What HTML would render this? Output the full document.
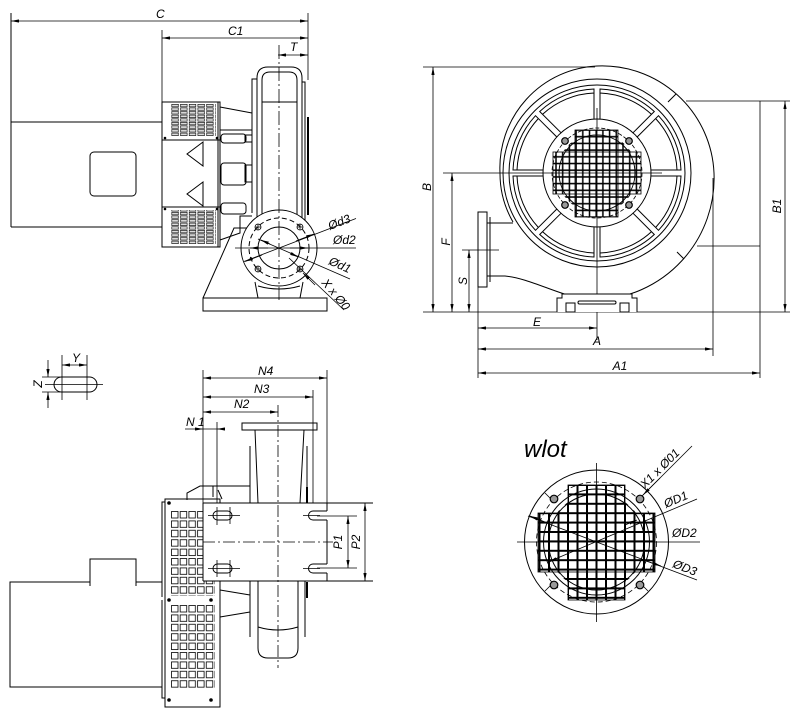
<!DOCTYPE html>
<html><head><meta charset="utf-8">
<style>
html,body{margin:0;padding:0;background:#fff;}
svg{display:block;}
text{font-family:"Liberation Sans","DejaVu Sans",sans-serif;font-style:italic;font-size:12px;fill:#000;stroke:none;}
</style></head><body>
<svg width="800" height="718" viewBox="0 0 800 718" xmlns="http://www.w3.org/2000/svg">
<defs>
<marker id="a" viewBox="0 0 10 4" refX="10" refY="2" markerWidth="8" markerHeight="3.2" orient="auto-start-reverse" markerUnits="userSpaceOnUse"><path d="M0,0L10,2L0,4z" fill="#000" stroke="none"/></marker>
<pattern id="c1" x="171.5" y="104" width="8.7" height="3.6" patternUnits="userSpaceOnUse"><rect x="0.3" y="0.3" width="6.6" height="2.5" fill="#ddd" stroke="#000" stroke-width="0.6"/></pattern>
<pattern id="c2" x="171" y="511" width="8.7" height="9.4" patternUnits="userSpaceOnUse"><rect x="0.5" y="0.5" width="6.5" height="6.5" fill="#fff" stroke="#000" stroke-width="0.8"/></pattern>
<pattern id="g1" x="555" y="129" width="6.7" height="6.7" patternUnits="userSpaceOnUse"><path d="M1,0V6.7M0,1H6.7" stroke="#000" stroke-width="1.5"/></pattern>
<pattern id="g2" x="567" y="484" width="9.5" height="9.4" patternUnits="userSpaceOnUse"><path d="M1,0V9.4M0,1H9.5" stroke="#000" stroke-width="2"/></pattern>
<clipPath id="cw"><rect x="575" y="130" width="43" height="87"/><rect x="553" y="152" width="88" height="42"/><circle cx="597" cy="173" r="40"/></clipPath>
<clipPath id="cl"><rect x="568" y="485" width="57" height="115"/><rect x="538" y="513" width="117" height="59"/><circle cx="596.5" cy="542" r="49"/></clipPath>
</defs>

<g fill="none" stroke="#000" stroke-width="1">

<!-- ============ TOP-LEFT VIEW ============ -->
<g stroke-width="0.8">
<line x1="11" y1="21" x2="308" y2="21" marker-start="url(#a)" marker-end="url(#a)"/>
<line x1="162" y1="38" x2="308" y2="38" marker-start="url(#a)" marker-end="url(#a)"/>
<line x1="278" y1="55" x2="308" y2="55" marker-start="url(#a)" marker-end="url(#a)"/>
<path d="M308,13V80 M162,30V102"/>
</g>
<text x="156" y="18">C</text>
<text x="228" y="35">C1</text>
<text x="290" y="51">T</text>

<!-- motor -->
<path d="M11,13V227 M11,122H162 M11,227H162"/>
<rect x="90" y="152" width="46" height="44" rx="4"/>

<!-- fan cover block -->
<rect x="162" y="102" width="58" height="145"/>
<path d="M162,140H220 M162,207H220 M218,102V247"/>
<rect x="171.5" y="104" width="44" height="32" fill="url(#c1)" stroke="none"/>
<rect x="171.5" y="210" width="44" height="34" fill="url(#c1)" stroke="none"/>
<g fill="#000" stroke="none"><circle cx="165" cy="138" r="1.3"/><circle cx="217" cy="138" r="1.3"/><circle cx="165" cy="209" r="1.3"/><circle cx="217" cy="209" r="1.3"/></g>
<polygon points="203,142 187,154 203,166"/>
<polygon points="203,182 187,194 203,206"/>

<!-- connectors -->
<path d="M220,107 L252,113 M220,130 H252"/>
<rect x="221" y="134" width="25" height="9" rx="3"/>
<rect x="245" y="135" width="7" height="7"/>
<rect x="221" y="163" width="25" height="22" rx="3"/>
<rect x="245" y="165" width="7" height="17"/>
<rect x="221" y="203" width="25" height="11" rx="3"/>
<path d="M220,240 L240,233 V216 H252"/>

<!-- volute side view -->
<path d="M257,222 V78 Q257,67 268,67 H291 Q302,67 302,78 V222"/>
<path d="M262,222 V80 Q262,72 270,72 H289 Q297,72 297,80 V222"/>
<path d="M262,102 H297"/>
<path d="M257,79 H252 V213"/>
<path d="M302,82 H305 V222"/>
<line x1="308" y1="117" x2="308" y2="215" stroke-width="2"/>

<!-- base -->
<rect x="203" y="298" width="124" height="13"/>
<path d="M203,298 L234,228 H247"/>
<path d="M255,282 L258,298 M303,282 L300,298"/>
<path d="M258,286 Q279,292 300,286"/>

<!-- flange -->
<circle cx="279" cy="248" r="38" fill="#fff"/>
<circle cx="279" cy="248" r="30" stroke-dasharray="5,3"/>
<circle cx="279" cy="248" r="21"/>
<g stroke-width="0.8">
<circle cx="258" cy="227" r="3"/><circle cx="300" cy="227" r="3"/>
<circle cx="258" cy="269" r="3"/><circle cx="300" cy="269" r="3"/>
<path d="M255,227h6M258,224v6M297,227h6M300,224v6M255,269h6M258,266v6M297,269h6M300,266v6"/>
</g>
<line x1="279" y1="45" x2="279" y2="300" stroke-width="0.8" stroke-dasharray="14,3,2,3"/>
<g stroke-width="0.8">
<line x1="235" y1="248" x2="356" y2="248"/>
<line x1="244" y1="261.5" x2="356" y2="218.5"/>
<line x1="258" y1="239" x2="350" y2="279"/>
<line x1="289" y1="258" x2="344" y2="310"/>
<line x1="262" y1="255" x2="245" y2="261.5" marker-end="url(#a)"/>
<line x1="296" y1="241" x2="314" y2="234" marker-end="url(#a)"/>
<line x1="268" y1="248" x2="250" y2="248" marker-end="url(#a)"/>
<line x1="290" y1="248" x2="308" y2="248" marker-end="url(#a)"/>
<line x1="270" y1="244" x2="261" y2="240" marker-end="url(#a)"/>
<line x1="290" y1="253" x2="298" y2="257" marker-end="url(#a)"/>
<line x1="315" y1="285" x2="303" y2="273" marker-end="url(#a)"/>
</g>
<text transform="translate(330,230) rotate(-21)">Ød3</text>
<text x="333" y="244">Ød2</text>
<text transform="translate(328,264) rotate(24)">Ød1</text>
<text transform="translate(321,283) rotate(50)">X x Ø0</text>

<!-- ============ TOP-RIGHT VIEW ============ -->
<g stroke-width="0.8">
<line x1="433" y1="67" x2="433" y2="312" marker-start="url(#a)" marker-end="url(#a)"/>
<line x1="452" y1="173" x2="452" y2="312" marker-start="url(#a)" marker-end="url(#a)"/>
<line x1="469" y1="250" x2="469" y2="312" marker-start="url(#a)" marker-end="url(#a)"/>
<line x1="785" y1="101" x2="785" y2="312" marker-start="url(#a)" marker-end="url(#a)"/>
<line x1="478" y1="328" x2="597" y2="328" marker-start="url(#a)" marker-end="url(#a)"/>
<line x1="478" y1="349" x2="713" y2="349" marker-start="url(#a)" marker-end="url(#a)"/>
<line x1="478" y1="373" x2="760" y2="373" marker-start="url(#a)" marker-end="url(#a)"/>
<path d="M423,67H595 M443,173H662 M462,250H499 M686,101H790 M697,246H760 M423,312H790 M760,101V378 M713,178V356 M478,287V378 M597,108V340"/>
</g>
<text transform="translate(431,187) rotate(-90)" text-anchor="middle">B</text>
<text transform="translate(450,242) rotate(-90)" text-anchor="middle">F</text>
<text transform="translate(467,281) rotate(-90)" text-anchor="middle">S</text>
<text transform="translate(781,206) rotate(-90)" text-anchor="middle">B1</text>
<text x="537" y="326" text-anchor="middle">E</text>
<text x="597" y="345" text-anchor="middle">A</text>
<text x="620" y="370" text-anchor="middle">A1</text>

<!-- volute -->
<path d="M513,222 A97,97 0 0 1 500,173 A102,102 0 0 1 597,66 A112,112 0 0 1 714,173 A122,122 0 0 1 597,300 C565,300 535,279 505,276 L487,276"/>
<path d="M487,223H513"/>
<rect x="478" y="212" width="9" height="75"/>
<path d="M490,217V282"/>
<path d="M668,102L676,94 M677,252L684,259"/>
<circle cx="597" cy="173" r="94"/>
<circle cx="597" cy="173" r="88"/>
<circle cx="597" cy="173" r="54"/>
<!-- windows -->
<path d="M651,176 L681,176 A84,84 0 0 1 658.5,230.3 L637.3,209.1 M677,176 A80,80 0 0 1 655.7,227.4"/>
<path d="M633.1,213.3 L654.3,234.5 A84,84 0 0 1 600,257 L600,227 M651.4,231.7 A80,80 0 0 1 600,253"/>
<path d="M594,227 L594,257 A84,84 0 0 1 539.7,234.5 L561,213.3 M594,253 A80,80 0 0 1 542.6,231.7"/>
<path d="M556.7,209.1 L535.5,230.3 A84,84 0 0 1 513,176 L543,176 M538.3,227.4 A80,80 0 0 1 517,176"/>
<path d="M543,170 L513,170 A84,84 0 0 1 535.5,115.7 L556.7,136.9 M517,170 A80,80 0 0 1 538.3,118.6"/>
<path d="M561,132.7 L539.7,111.5 A84,84 0 0 1 594,89 L594,119 M542.6,114.3 A80,80 0 0 1 594,93"/>
<path d="M600,119 L600,89 A84,84 0 0 1 654.3,111.5 L633.1,132.7 M600,93 A80,80 0 0 1 651.4,114.3"/>
<path d="M637.3,136.9 L658.5,115.7 A84,84 0 0 1 681,170 L651,170 M655.7,118.6 A80,80 0 0 1 677,170"/>
<!-- inlet grille -->
<rect x="550" y="126" width="95" height="95" fill="url(#g1)" clip-path="url(#cw)" stroke="none"/>
<rect x="575" y="130" width="43" height="87" stroke-width="0.8"/>
<rect x="553" y="152" width="88" height="42" stroke-width="0.8"/>
<circle cx="597" cy="173" r="38"/>
<circle cx="597" cy="173" r="45" stroke-dasharray="4,2" stroke-width="0.8"/>
<g fill="#999" stroke-width="1.2"><circle cx="565" cy="141" r="3.3"/><circle cx="629" cy="141" r="3.3"/><circle cx="565" cy="205" r="3.3"/><circle cx="629" cy="205" r="3.3"/></g>
<!-- feet -->
<path d="M557,312 V298 H562 V294 H632 V298 H637 V312" fill="#fff"/>
<rect x="566" y="303" width="9" height="9"/>
<rect x="620" y="303" width="9" height="9"/>
<rect x="578" y="301" width="38" height="3" rx="1.5"/>

<!-- ============ BOTTOM-LEFT VIEW ============ -->
<!-- slot detail -->
<rect x="54" y="377" width="43" height="15" rx="7.5"/>
<g stroke-width="0.8">
<path d="M45,384.5H103 M62,355V400 M87,355V400 M42,377H60 M42,392H60"/>
<line x1="62" y1="365" x2="87" y2="365" marker-start="url(#a)" marker-end="url(#a)"/>
<line x1="48" y1="360" x2="48" y2="377" marker-end="url(#a)"/>
<line x1="48" y1="408" x2="48" y2="392" marker-end="url(#a)"/>
</g>
<text x="72" y="362">Y</text>
<text transform="translate(42,384) rotate(-90)" text-anchor="middle">Z</text>

<!-- N dims -->
<g stroke-width="0.8">
<line x1="203" y1="378" x2="327" y2="378" marker-start="url(#a)" marker-end="url(#a)"/>
<line x1="203" y1="397" x2="313" y2="397" marker-start="url(#a)" marker-end="url(#a)"/>
<line x1="203" y1="412" x2="278" y2="412" marker-start="url(#a)" marker-end="url(#a)"/>
<line x1="185" y1="429" x2="203" y2="429" marker-end="url(#a)"/>
<line x1="225" y1="429" x2="217" y2="429" marker-end="url(#a)"/>
<path d="M203,429H217 M203,370V503 M327,370V503 M313,390V511 M217,422V525"/>
</g>
<text x="258" y="375">N4</text>
<text x="254" y="393">N3</text>
<text x="234" y="408">N2</text>
<text x="186" y="426">N 1</text>

<!-- outlet top view -->
<rect x="242" y="423" width="75" height="7"/>
<path d="M255,430 L258,503 M304,430 L300,503"/>
<path d="M250,446V503 M307,446V492"/>
<line x1="307" y1="487" x2="307" y2="503" stroke-width="2"/>
<path d="M187,500 V493 L200,486 H250 M213,486V497 M218,490L222,499"/>

<!-- motor -->
<path d="M162,582 H136 V559 H90 V582 H10 V687 H162"/>
<path d="M90,582V586 M136,582V586"/>

<!-- grille panel -->
<rect x="165" y="499" width="55" height="208"/>
<path d="M165,502 H162 V597 M162,600 V698 H165"/>
<rect x="171" y="511" width="44" height="85" fill="url(#c2)" stroke="none"/>
<rect x="171" y="604" width="44" height="85" fill="url(#c2)" stroke="none"/>
<g fill="#000" stroke="none"><circle cx="169" cy="503" r="1.8"/><circle cx="169" cy="600" r="1.8"/><circle cx="211" cy="600" r="1.8"/><circle cx="169" cy="700" r="1.8"/><circle cx="211" cy="700" r="1.8"/></g>

<!-- below base -->
<path d="M220,590 L250,595 M220,617 L250,612 M250,581V637 M305,581V637"/>
<line x1="307" y1="582" x2="307" y2="598" stroke-width="2"/>
<path d="M258,581 V648 Q258,658 268,658 H288 Q298,658 298,648 V581"/>
<path d="M258,627 Q278,633 298,627"/>

<!-- base plate -->
<rect x="203" y="503" width="124" height="78" fill="#fff" stroke="none"/>
<path d="M203,503 H373 M203,581 H373 M203,503 V581 M327,503 V511 M327,520 V564 M327,573 V581"/>
<path d="M327,511 H313 A4.5,4.5 0 0 0 313,520 H327 M327,564 H313 A4.5,4.5 0 0 0 313,573 H327"/>
<rect x="213" y="511" width="19" height="9" rx="4.5"/>
<rect x="213" y="564" width="19" height="9" rx="4.5"/>
<g stroke-width="0.8">
<path d="M208,515.5H240 M208,568.5H240 M217,507V525 M230,507V524 M217,560V577 M230,560V577 M303,515.5H320 M303,568.5H320"/>
<path d="M317,516H357 M317,568H357 M327,503H373 M327,581H373"/>
<line x1="348" y1="516" x2="348" y2="568" marker-start="url(#a)" marker-end="url(#a)"/>
<line x1="365" y1="503" x2="365" y2="581" marker-start="url(#a)" marker-end="url(#a)"/>
<line x1="203" y1="542" x2="333" y2="542" stroke-dasharray="12,3,2,3"/>
<line x1="278" y1="405" x2="278" y2="668" stroke-dasharray="12,3,2,3"/>
</g>
<text transform="translate(342,542) rotate(-90)" text-anchor="middle">P1</text>
<text transform="translate(360,542) rotate(-90)" text-anchor="middle">P2</text>

<!-- ============ WLOT ============ -->
<text x="524" y="457" style="font-size:24px">wlot</text>
<circle cx="596.5" cy="542" r="72"/>
<circle cx="596.5" cy="542" r="60" stroke-dasharray="5,3" stroke-width="0.8"/>
<circle cx="596.5" cy="542" r="53"/>
<circle cx="596.5" cy="542" r="48"/>
<rect x="530" y="475" width="135" height="135" fill="url(#g2)" clip-path="url(#cl)" stroke="none"/>
<rect x="568" y="485" width="57" height="115" stroke-width="0.8"/>
<rect x="538" y="513" width="117" height="59" stroke-width="0.8"/>
<g stroke-width="0.8">
<path d="M517,542H700 M596.5,463V622"/>
<line x1="528" y1="516" x2="697" y2="580"/>
<line x1="548" y1="562" x2="697" y2="499"/>
<line x1="640" y1="498" x2="692" y2="446"/>
<path d="M545,493L553,501 M545,591L553,583 M648,591L640,583"/>
<line x1="545" y1="522" x2="530" y2="516" marker-end="url(#a)"/>
<line x1="646" y1="561" x2="661" y2="566" marker-end="url(#a)"/>
<line x1="560" y1="557" x2="549" y2="562" marker-end="url(#a)"/>
<line x1="625" y1="525" x2="637" y2="520" marker-end="url(#a)"/>
<line x1="660" y1="478" x2="643" y2="495" marker-end="url(#a)"/>
</g>
<g fill="#999" stroke-width="1.2"><circle cx="554" cy="499" r="3.8"/><circle cx="640" cy="499" r="3.8"/><circle cx="554" cy="585" r="3.8"/><circle cx="640" cy="585" r="3.8"/></g>
<text transform="translate(645,489) rotate(-45)">X1 x Ø01</text>
<text transform="translate(666,508) rotate(-23)">ØD1</text>
<text x="672" y="537">ØD2</text>
<text transform="translate(672,567) rotate(21)">ØD3</text>

</g>
</svg>
</body></html>
